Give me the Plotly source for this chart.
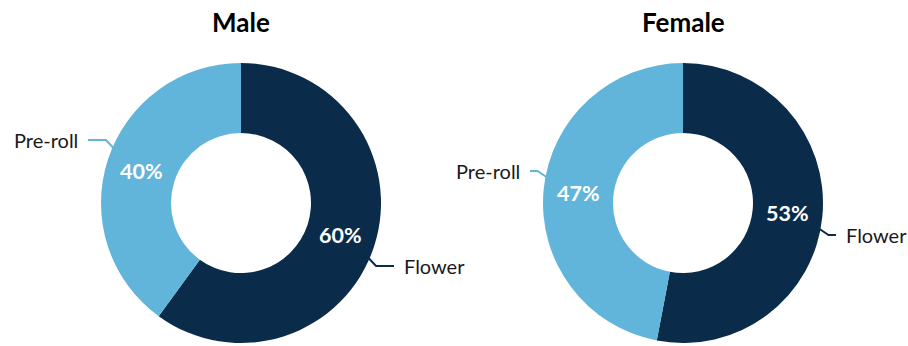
import math
import plotly.graph_objects as go

# ---- data ----
groups = ["Male", "Female"]
categories = ["Flower", "Pre-roll"]
male_values = [60, 40]
female_values = [53, 47]
colors = ["#0A2C4A", "#62B5DA"]

W, H = 908, 346
R = 140          # outer radius px
HOLE = 0.5
centers = [(241, 203), (683, 203)]

fig = go.Figure()
annotations = []
shapes = []

for name, vals, (cx, cy) in zip(groups, [male_values, female_values], centers):
    dom_x = [(cx - R) / W, (cx + R) / W]
    dom_y = [1 - (cy + R) / H, 1 - (cy - R) / H]
    fig.add_trace(go.Pie(
        labels=categories, values=vals, hole=HOLE, sort=False,
        direction="clockwise", rotation=0,
        marker=dict(colors=colors, line=dict(width=0)),
        textinfo="none", hoverinfo="label+percent",
        domain=dict(x=dom_x, y=dom_y), showlegend=False,
    ))
    # title
    annotations.append(dict(
        x=cx / W, y=1 - 22 / H, xref="paper", yref="paper",
        text=f"<b>{name}</b>", showarrow=False,
        font=dict(family="Lato", size=26, color="#000000"),
        xanchor="center", yanchor="middle"))
    total = sum(vals)
    cum = 0
    for cat, v, col in zip(categories, vals, colors):
        mid = math.radians(90 - 360 * (cum + v / 2) / total)
        cum += v
        # percent label
        rr = R * (1 + HOLE) / 2
        px, py = cx + rr * math.cos(mid), cy - rr * math.sin(mid)
        annotations.append(dict(
            x=px / W, y=1 - py / H, xref="paper", yref="paper",
            text=f"<b>{round(100 * v / total)}%</b>", showarrow=False,
            font=dict(family="Lato", size=21.5, color="white"),
            xanchor="center", yanchor="middle"))
        # leader line
        a0 = mid - math.radians(5)
        a = mid - math.radians(7)
        sx, sy = cx + (R - 3) * math.cos(a0), cy - (R - 3) * math.sin(a0)
        ex, ey = cx + (R + 9) * math.cos(a), cy - (R + 9) * math.sin(a)
        sgn = 1 if math.cos(a) >= 0 else -1
        hx = cx + sgn * (R + 13)
        pts = [(sx, sy), (ex, ey), (hx, ey)]
        path = "M " + " L ".join(f"{x / W},{1 - y / H}" for x, y in pts)
        shapes.append(dict(type="path", path=path, xref="paper", yref="paper",
                           line=dict(color=col, width=2)))
        annotations.append(dict(
            x=(cx + sgn * (R + 21)) / W, y=1 - ey / H, xref="paper", yref="paper",
            text=cat, showarrow=False,
            font=dict(family="Lato", size=20, color="#1a1a1a"),
            xanchor="left" if sgn > 0 else "right", yanchor="middle"))

fig.update_layout(
    width=W, height=H, autosize=False,
    margin=dict(l=0, r=0, t=0, b=0),
    paper_bgcolor="white", plot_bgcolor="white",
    annotations=annotations, shapes=shapes,
)
fig.write_html("out.html")
